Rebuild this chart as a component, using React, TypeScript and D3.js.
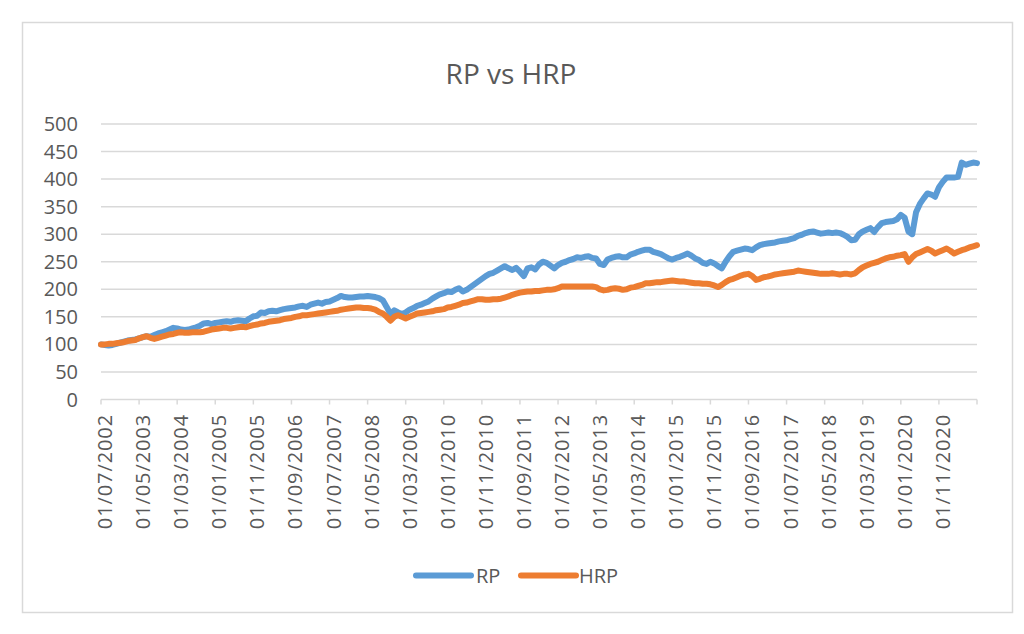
import React from "react";
import * as d3 from "d3";

// Monthly index 0 = 01/07/2002 ... 230 = 01/09/2021
const rpValues: number[] = [
  100, 99, 98, 99, 101, 103, 105, 107, 108, 109,
  111, 113, 115, 114, 117, 120, 122, 124, 127, 130,
  129, 127, 126, 127, 129, 131, 134, 138, 139, 137,
  139, 140, 141, 142, 141, 143, 144, 143, 142, 147,
  151, 152, 158, 157, 160, 161, 160, 162, 164, 165,
  166, 167, 169, 170, 168, 172, 174, 176, 174, 177,
  178, 181, 184, 188, 186, 185, 185, 186, 187, 187,
  188, 187, 186, 184, 180, 168, 155, 162, 158, 155,
  158, 163, 166, 170, 172, 175, 178, 183, 187, 191,
  193, 196, 195, 199, 202, 196, 199, 204, 209, 214,
  219, 224, 228, 230, 234, 238, 242, 238, 235, 239,
  232, 224, 238, 240, 236, 245, 250, 248, 243, 238,
  244, 248, 250, 253, 255, 258, 257, 259, 260, 257,
  256, 246, 244, 254, 257, 259, 260, 258, 258, 263,
  265, 268, 270, 272, 272, 268, 266, 264, 260, 256,
  254, 257, 259, 262, 265, 261, 256, 253, 248, 246,
  250, 247, 242, 238, 250, 260, 268, 270, 272, 274,
  273, 271, 276, 280, 282, 283, 284, 285, 287, 288,
  289, 291, 293, 297, 299, 302, 304, 305, 303, 301,
  302, 303, 302, 303, 302, 299, 295, 289, 290, 300,
  305, 308, 311, 304, 313, 320, 322, 323, 324, 327,
  335, 330, 305, 300, 340, 355, 365, 374, 372, 368,
  385, 395, 403, 403, 403, 404, 430, 426, 428, 430,
  429,
];

const hrpValues: number[] = [
  100, 100, 101, 101, 102, 103, 104, 106, 107, 108,
  111, 113, 115, 112, 110, 112, 114, 116, 118, 119,
  121, 122, 121, 121, 122, 122, 122, 123, 125, 127,
  128, 129, 130, 130, 129, 130, 131, 132, 131, 133,
  135, 136, 138, 139, 141, 142, 143, 144, 146, 147,
  148, 150, 151, 153, 153, 154, 155, 156, 157, 158,
  159, 160, 161, 163, 164, 165, 166, 167, 167, 166,
  166, 165, 163, 159, 156, 150, 143, 150, 153, 150,
  147, 150, 153, 156, 157, 158, 159, 160, 162, 163,
  164, 167, 168, 170, 172, 175, 176, 178, 180, 182,
  182, 181, 181, 182, 182, 183, 185, 187, 190, 192,
  194, 195, 196, 196, 197, 197, 198, 199, 199, 200,
  202, 205, 205, 205, 205, 205, 205, 205, 205, 205,
  204, 200, 198, 199, 201, 202, 201, 199, 200, 203,
  204, 206, 208, 211, 211, 212, 213, 213, 214, 215,
  216, 215, 214, 214, 213, 212, 211, 211, 210, 210,
  209, 207, 204, 208, 213, 217, 219, 222, 225, 227,
  228, 224, 217, 219, 222, 223, 225, 227, 228, 229,
  230, 231, 232, 234, 233, 232, 231, 230, 229, 228,
  228, 228, 229, 228, 227, 228, 228, 227, 229, 235,
  240, 243, 246, 248, 250, 253, 256, 258, 259, 261,
  262, 264, 250, 258, 264, 267, 270, 273, 270, 265,
  268, 271, 274, 270, 265, 268, 271, 273, 276, 278,
  280,
];

const xTickLabels: string[] = [
  "01/07/2002", "01/05/2003", "01/03/2004", "01/01/2005", "01/11/2005",
  "01/09/2006", "01/07/2007", "01/05/2008", "01/03/2009", "01/01/2010",
  "01/11/2010", "01/09/2011", "01/07/2012", "01/05/2013", "01/03/2014",
  "01/01/2015", "01/11/2015", "01/09/2016", "01/07/2017", "01/05/2018",
  "01/03/2019", "01/01/2020", "01/11/2020",
];
const labelEvery = 10;
const yTicks: number[] = [0, 50, 100, 150, 200, 250, 300, 350, 400, 450, 500];

const seriesNames = ["RP", "HRP"];
const seriesColors = ["#5B9BD5", "#ED7D31"];

const W = 1024;
const H = 634;
const FONT = "'Open Sans', 'Liberation Sans', sans-serif";
const TEXT = "#595959";
const GRID = "#d9d9d9";

export default function App() {
  const n = rpValues.length;
  const x = d3.scaleLinear().domain([0, n - 1]).range([101, 977]);
  const y = d3.scaleLinear().domain([0, 500]).range([399.5, 124]);
  const line = d3
    .line<number>()
    .x((_, i) => x(i))
    .y((d) => y(d))
    .curve(d3.curveLinear);

  const tickIdx: number[] = d3.range(0, n, labelEvery);
  if (tickIdx[tickIdx.length - 1] !== n - 1) tickIdx.push(n - 1);

  const series = [rpValues, hrpValues];

  return (
    <svg
      width={W}
      height={H}
      style={{ position: "absolute", left: 0, top: 0, background: "#fff" }}
      fontFamily={FONT}
    >
      <rect x={0} y={0} width={W} height={H} fill="#fff" />
      <rect x={22.5} y={22.5} width={990} height={590} fill="#fff" stroke={GRID} strokeWidth={1.5} />
      <text x={511} y={84} textAnchor="middle" fontSize={28} fill={TEXT}>
        RP vs HRP
      </text>
      {yTicks.map((t) => (
        <g key={t}>
          {t > 0 && (
            <line x1={101} x2={977} y1={y(t)} y2={y(t)} stroke={GRID} strokeWidth={1.5} />
          )}
          <text x={78} y={y(t)} dy="0.35em" textAnchor="end" fontSize={20} fill={TEXT}>
            {t}
          </text>
        </g>
      ))}
      <line x1={101} x2={977} y1={y(0)} y2={y(0)} stroke={GRID} strokeWidth={1.5} />
      {tickIdx.map((i) => (
        <line key={i} x1={x(i)} x2={x(i)} y1={y(0)} y2={y(0) + 5} stroke={GRID} strokeWidth={1.5} />
      ))}
      {xTickLabels.map((lab, k) => {
        const xi = x(k * labelEvery) + 4;
        return (
          <text
            key={lab}
            transform={`translate(${xi},${414}) rotate(-90)`}
            textAnchor="end"
            dy="0.35em"
            fontSize={20}
            letterSpacing={0.9}
            fill={TEXT}
          >
            {lab}
          </text>
        );
      })}
      {series.map((s, k) => (
        <path
          key={seriesNames[k]}
          d={line(s) || ""}
          fill="none"
          stroke={seriesColors[k]}
          strokeWidth={6}
          strokeLinejoin="round"
          strokeLinecap="round"
        />
      ))}
      <g>
        <line x1={416} x2={471} y1={575.5} y2={575.5} stroke={seriesColors[0]} strokeWidth={6} strokeLinecap="round" />
        <text x={476} y={575.5} dy="0.35em" fontSize={20} fill={TEXT}>
          {seriesNames[0]}
        </text>
        <line x1={521} x2={576} y1={575.5} y2={575.5} stroke={seriesColors[1]} strokeWidth={6} strokeLinecap="round" />
        <text x={579} y={575.5} dy="0.35em" fontSize={20} fill={TEXT}>
          {seriesNames[1]}
        </text>
      </g>
    </svg>
  );
}
